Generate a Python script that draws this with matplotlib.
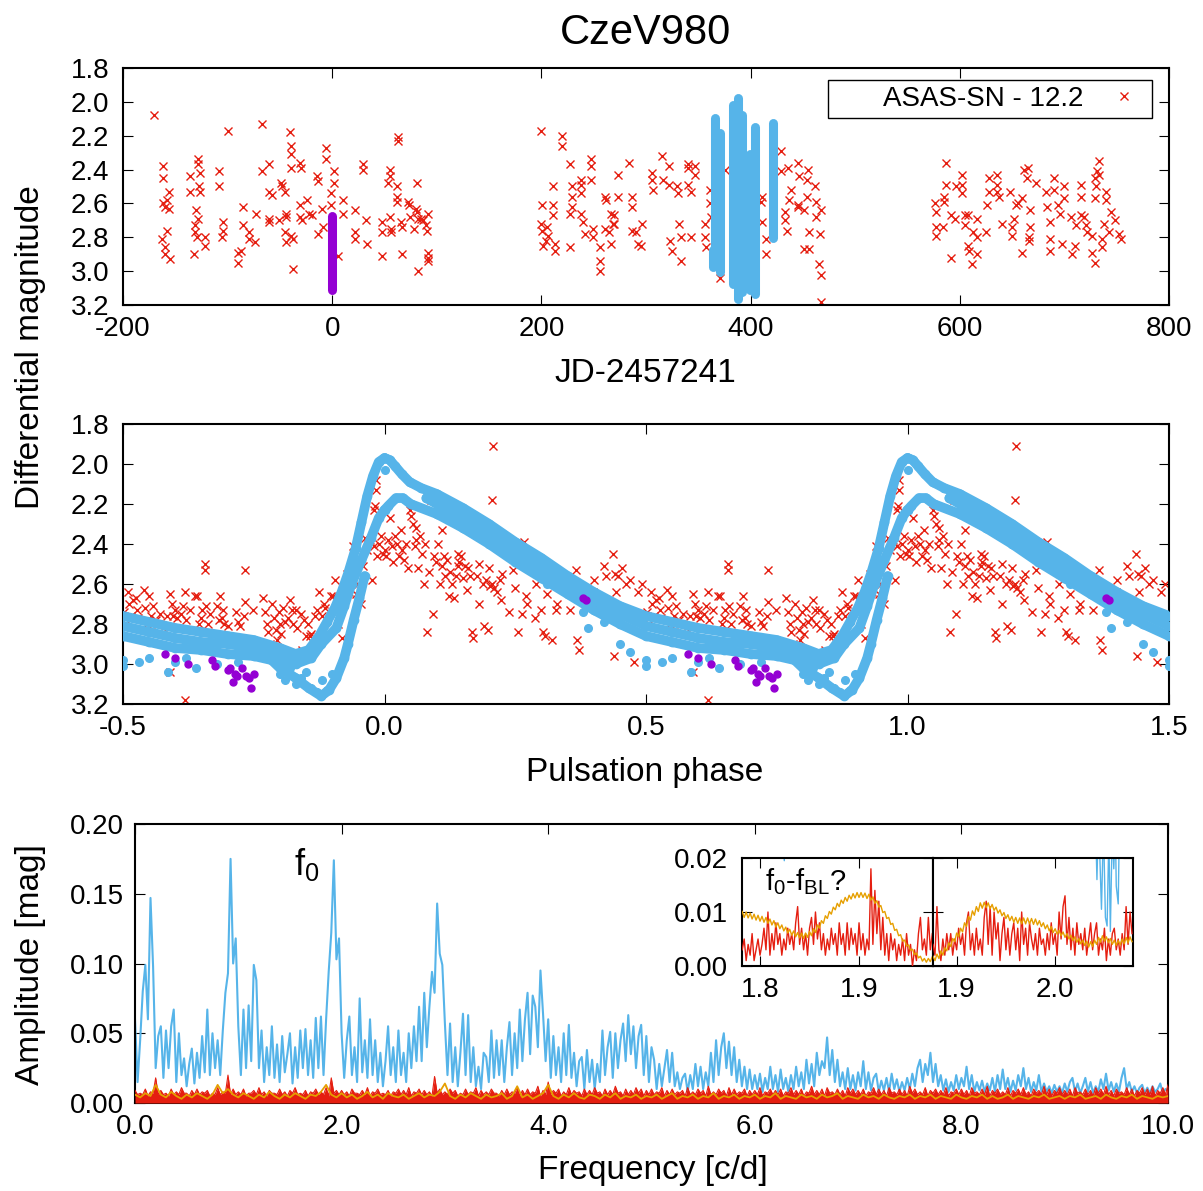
import matplotlib
matplotlib.use('Agg')
import matplotlib.pyplot as plt
from matplotlib.patches import Rectangle
from matplotlib.ticker import FormatStrFormatter
import numpy as np

plt.rcParams['font.family'] = ['Liberation Sans', 'DejaVu Sans']
plt.rcParams['mathtext.fontset'] = 'custom'
plt.rcParams['mathtext.rm'] = 'Liberation Sans'
plt.rcParams['axes.unicode_minus'] = False
plt.rcParams['axes.linewidth'] = 1.5
plt.rcParams['xtick.direction'] = 'in'
plt.rcParams['ytick.direction'] = 'in'
plt.rcParams['xtick.top'] = True
plt.rcParams['ytick.right'] = True
plt.rcParams['xtick.major.size'] = 7
plt.rcParams['ytick.major.size'] = 7
plt.rcParams['xtick.labelsize'] = 20
plt.rcParams['ytick.labelsize'] = 20

RED = '#e51e10'
BLUE = '#56b4e9'
PURPLE = '#9400d3'
ORANGE = '#e69f00'

# ---------------------------------------------------------------------------
# Top panel: ASAS-SN photometry vs time (JD-2457241, magnitude)
# ---------------------------------------------------------------------------
asas_jd = [
    -170, -162, -162, -162, -160, -158, -156, -156, -163, -160, -158, -160, -155,
    -136, -136, -132, -128, -128, -126, -127, -126, -130, -128, -131, -131, -129,
    -122, -122, -108, -108, -104, -104, -105, -100, -90, -87, -90, -85, -85, -80,
    -80, -74, -73, -67, -67, -60, -60, -58, -60, -60, -51, -49, -48, -45, -44, -44,
    -45, -44, -40, -39, -39, -39, -39, -37, -37, -31, -31, -31, -30, -29, -24, -22,
    -19, -15, -14, -14, -10, -9, -6, -6, -1, -1, 2, 2, 10, 10, 6, 22, 22, 22, 29, 29,
    32, 33, 48, 48, 48, 53, 55, 55, 55, 56, 56, 62, 62, 62, 63, 63, 66, 67, 67, 72,
    73, 74, 78, 80, 81, 81, 82, 82, 85, 87, 90, 91, 92, 92, 92, 92,
    200, 200, 201, 201, 202, 204, 205, 206, 211, 211, 211, 213, 213, 220, 220, 227,
    227, 229, 229, 229, 227, 238, 238, 238, 238, 240, 242, 247, 247, 247, 249, 249,
    256, 256, 256, 261, 262, 261, 265, 267, 267, 268, 269, 269, 273, 273, 284, 287,
    287, 287, 290, 292, 295, 296, 306, 306, 307, 315, 316, 322, 322, 323, 325, 330,
    331, 332, 333, 333, 340, 340, 340, 343, 343, 347, 347, 356, 356, 357, 361, 361,
    362, 371, 376, 389, 410, 411, 411, 415, 415, 429, 429, 433, 433, 435, 436, 439,
    437, 445, 446, 445, 445, 451, 455, 454, 454, 456, 451, 456, 462, 463, 463, 466,
    467, 465, 467, 467,
    576, 577, 577, 577, 585, 585, 587, 587, 584, 592, 592, 595, 596, 602, 602, 602,
    605, 605, 608, 608, 609, 612, 613, 616, 616, 616, 625, 626, 628, 628, 636, 636,
    636, 637, 640, 648, 650, 650, 652, 654, 656, 659, 659, 661, 664, 665, 667, 667,
    666, 666, 673, 682, 683, 686, 686, 686, 690, 690, 694, 696, 698, 700, 700, 706,
    707, 710, 711, 716, 716, 716, 719, 721, 722, 726, 726, 729, 729, 730, 729, 731,
    733, 733, 736, 736, 738, 740, 740, 743, 745, 748, 752, 754,
]
asas_mag = [
    2.08, 2.38, 2.45, 2.60, 2.62, 2.58, 2.63, 2.53, 2.81, 2.86, 2.76, 2.90, 2.93,
    2.44, 2.53, 2.90, 2.34, 2.37, 2.42, 2.50, 2.53, 2.64, 2.69, 2.73, 2.77, 2.80,
    2.80, 2.85, 2.41, 2.50, 2.71, 2.76, 2.80, 2.17, 2.89, 2.88, 2.95, 2.62, 2.73, 2.77,
    2.81, 2.83, 2.66, 2.13, 2.41, 2.37, 2.53, 2.55, 2.69, 2.71, 2.70, 2.48, 2.50, 2.53, 2.66, 2.68,
    2.77, 2.83, 2.18, 2.26, 2.31, 2.39, 2.79, 2.81, 2.99, 2.61, 2.68, 2.36, 2.39, 2.70, 2.58, 2.66,
    2.67, 2.44, 2.47, 2.78, 2.63, 2.74, 2.27, 2.34, 2.54, 2.61, 2.41, 2.48, 2.58, 2.66, 2.91, 2.64, 2.77, 2.81, 2.37, 2.40,
    2.70, 2.84, 2.71, 2.77, 2.91, 2.48, 2.40, 2.44, 2.68, 2.75, 2.77, 2.50, 2.56, 2.59, 2.21, 2.23, 2.71, 2.74, 2.90, 2.59,
    2.61, 2.68, 2.75, 2.63, 2.65, 2.48, 2.69, 3.00, 2.69, 2.70, 2.73, 2.76, 2.66, 2.89, 2.94, 2.92,
    2.17, 2.72, 2.76, 2.61, 2.85, 2.82, 2.74, 2.79, 2.50, 2.61, 2.67, 2.84, 2.88, 2.20, 2.26, 2.37,
    2.66, 2.50, 2.56, 2.62, 2.86, 2.46, 2.49, 2.54, 2.66, 2.71, 2.78, 2.34, 2.38, 2.46, 2.75, 2.80,
    2.86, 2.94, 3.00, 2.56, 2.58, 2.75, 2.77, 2.84, 2.66, 2.72, 2.67, 2.72, 2.56, 2.43, 2.36, 2.56,
    2.62, 2.76, 2.77, 2.84, 2.85, 2.72, 2.42, 2.46, 2.52, 2.32, 2.46, 2.38, 2.49, 2.82, 2.88, 2.50,
    2.54, 2.72, 2.80, 2.94, 2.37, 2.39, 2.49, 2.53, 2.80, 2.38, 2.43, 2.72, 2.80, 2.86, 2.52, 2.60,
    2.68, 3.04, 2.40, 2.28, 2.59, 2.56, 2.71, 2.81, 2.90, 2.29, 2.41, 2.65, 2.70, 2.76, 2.39, 2.52,
    2.58, 2.36, 2.44, 2.61, 2.62, 2.64, 2.40, 2.46, 2.56, 2.77, 2.87, 2.87, 2.50, 2.59, 2.68, 2.78,
    2.64, 2.96, 3.02, 3.18,
    2.60, 2.65, 2.74, 2.79, 2.56, 2.59, 2.36, 2.49, 2.74, 2.67, 2.92, 2.69, 2.50, 2.43, 2.49, 2.54,
    2.67, 2.73, 2.67, 2.85, 2.88, 2.96, 2.77, 2.69, 2.80, 2.90, 2.77, 2.61, 2.45, 2.53, 2.43, 2.49,
    2.53, 2.56, 2.72, 2.53, 2.74, 2.79, 2.69, 2.61, 2.60, 2.57, 2.89, 2.40, 2.45, 2.39, 2.64, 2.74,
    2.80, 2.82, 2.48, 2.53, 2.62, 2.71, 2.81, 2.88, 2.45, 2.52, 2.61, 2.66, 2.84, 2.50, 2.57, 2.68,
    2.90, 2.85, 2.73, 2.49, 2.56, 2.67, 2.68, 2.73, 2.77, 2.79, 2.89, 2.95, 2.57, 2.50, 2.45, 2.41,
    2.35, 2.43, 2.81, 2.86, 2.72, 2.53, 2.58, 2.77, 2.65, 2.70, 2.78, 2.81,
]

# high-cadence nights (blue) and the single purple night: JD, brightest, faintest
blue_night_jd = [364, 366, 371, 383, 388, 392, 399, 404, 421]
blue_night_top = [2.85, 2.07, 2.16, 1.99, 1.95, 2.05, 2.28, 2.12, 2.10]
blue_night_bottom = [3.00, 2.98, 3.03, 3.10, 3.19, 3.15, 3.14, 3.16, 2.83]
purple_night_jd = [0]
purple_night_top = [2.65]
purple_night_bottom = [3.14]

# ---------------------------------------------------------------------------
# Middle panel: phased light curve
# ---------------------------------------------------------------------------
asas_phase = [
    -0.498, -0.495, -0.490, -0.488, -0.484, -0.480, -0.476, -0.474, -0.471, -0.460,
    -0.457, -0.454, -0.450, -0.447, -0.442, -0.437, -0.433, -0.430, -0.423, -0.416,
    -0.410, -0.406, -0.404, -0.400, -0.396, -0.389, -0.385, -0.382, -0.379, -0.372,
    -0.362, -0.358, -0.355, -0.351, -0.348, -0.344, -0.343, -0.341, -0.338, -0.334,
    -0.320, -0.317, -0.314, -0.310, -0.308, -0.307, -0.300, -0.283, -0.280, -0.276,
    -0.269, -0.267, -0.266, -0.252, -0.233, -0.229, -0.225, -0.222, -0.218, -0.215,
    -0.211, -0.208, -0.205, -0.201, -0.200, -0.198, -0.194, -0.190, -0.184, -0.181,
    -0.177, -0.174, -0.170, -0.167, -0.160, -0.157, -0.153, -0.150, -0.147, -0.143,
    -0.140, -0.133, -0.130, -0.126, -0.120, -0.116, -0.113, -0.102, -0.099, -0.095,
    -0.089, -0.082, -0.075, -0.072, -0.068, -0.065, -0.061, -0.058, -0.055, -0.051,
    -0.048, -0.044, -0.041, -0.038, -0.034, -0.031, -0.027, -0.024, -0.021, -0.019,
    -0.017, -0.016, -0.020, -0.014, -0.010, -0.007, -0.003, 0.000, 0.003, 0.007,
    0.010, 0.014, 0.017, 0.020, 0.024, 0.027, 0.031, 0.034, 0.038, 0.041,
    0.044, 0.048, 0.051, 0.055, 0.058, 0.061, 0.065, 0.068, 0.072, 0.075,
    0.078, 0.082, 0.085, 0.089, 0.092, 0.094, 0.099, 0.102, 0.106, 0.109,
    0.113, 0.116, 0.119, 0.123, 0.126, 0.130, 0.133, 0.136, 0.140, 0.143,
    0.147, 0.150, 0.153, 0.157, 0.160, 0.164, 0.167, 0.170, 0.177, 0.181,
    0.188, 0.191, 0.194, 0.198, 0.201, 0.205, 0.208, 0.206, 0.209, 0.215,
    0.222, 0.225, 0.239, 0.246, 0.256, 0.263, 0.266, 0.273, 0.283, 0.287,
    0.300, 0.303, 0.307, 0.321, 0.328, 0.341, 0.348, 0.355, 0.367, 0.368,
    0.372, 0.375, 0.389, 0.399, 0.402, 0.409, 0.420, 0.423, 0.426, 0.437,
    0.438, 0.440, 0.443, 0.447, 0.455, 0.462, 0.470, 0.478, 0.485, 0.492,
    -0.410, -0.382, 0.310, 0.330, 0.250, 0.270, 0.290, 0.220, 0.360, 0.400,
    0.440, 0.140, 0.110, 0.060, 0.180, 0.200,
]
asas_phase_mag = [
    2.74, 2.80, 2.64, 2.70, 2.76, 2.68, 2.67, 2.73, 2.77, 2.63,
    2.72, 2.80, 2.66, 2.76, 2.71, 2.78, 2.80, 2.75, 2.82, 2.76,
    2.65, 2.70, 2.76, 2.73, 2.77, 2.75, 2.71, 2.64, 2.78, 2.73,
    2.66, 2.66, 2.80, 2.77, 2.73, 2.50, 2.53, 2.71, 2.80, 2.75,
    2.71, 2.78, 2.66, 2.77, 2.73, 2.80, 2.81, 2.74, 2.79, 2.81,
    2.76, 2.53, 2.69, 2.73, 2.67, 2.74, 2.80, 2.84, 2.90, 2.70,
    2.77, 2.83, 2.88, 2.74, 2.80, 2.85, 2.72, 2.79, 2.77, 2.68,
    2.73, 2.80, 2.73, 2.82, 2.75, 2.93, 2.78, 2.86, 2.80, 2.86,
    2.85, 2.76, 2.73, 2.64, 2.76, 2.70, 2.72, 2.66, 2.66, 2.58,
    2.80, 2.87, 2.60, 2.55, 2.64, 2.53, 2.41, 2.50, 2.65, 2.60,
    2.66, 2.70, 2.51, 2.37, 2.43, 2.40, 2.38, 2.58, 2.23, 2.21,
    2.13, 2.08, 2.41, 2.46, 2.40, 2.36, 2.45, 2.43, 2.46, 2.38,
    2.27, 2.41, 2.49, 2.36, 2.40, 2.46, 2.33, 2.43, 2.48, 2.40,
    2.52, 2.23, 2.26, 2.30, 2.41, 2.38, 2.52, 2.36, 2.45, 2.60,
    2.40, 2.84, 2.54, 2.18, 2.75, 2.46, 2.49, 2.40, 2.60, 2.51,
    2.46, 2.56, 2.48, 2.66, 2.54, 2.60, 2.67, 2.56, 2.51, 2.49,
    2.46, 2.57, 2.51, 2.63, 2.52, 2.56, 2.84, 2.87, 2.56, 2.70,
    2.60, 2.81, 2.58, 2.83, 2.61, 2.60, 1.91, 2.18, 2.62, 2.64,
    2.68, 2.55, 2.74, 2.53, 2.84, 2.75, 2.39, 2.70, 2.53, 2.77,
    2.73, 2.84, 2.86, 2.88, 2.73, 2.56, 2.63, 2.73, 2.53, 2.88,
    2.93, 2.66, 2.66, 2.64, 2.69, 2.70, 2.51, 2.56, 2.70, 2.45,
    2.96, 2.71, 2.64, 2.56, 2.52, 2.60, 2.58, 2.99, 2.64, 2.60,
    3.04, 3.18, 2.65, 2.70, 2.62, 2.66, 2.60, 2.58, 2.62, 2.58,
    2.55, 2.45, 2.33, 2.32, 2.50, 2.52,
]

# blue light-curve tracks over one cycle (phase 0..1, magnitude)
track_a_phase = [0.000, 0.010, 0.020, 0.033, 0.048, 0.070, 0.100, 0.150, 0.200, 0.250,
                 0.300, 0.350, 0.400, 0.450, 0.500, 0.550, 0.600, 0.650, 0.700, 0.750,
                 0.800, 0.830, 0.855, 0.875, 0.890, 0.905, 0.918, 0.930, 0.945, 0.956,
                 0.967, 0.978, 0.989, 1.000]
track_a_mag = [1.97, 1.98, 2.01, 2.05, 2.09, 2.12, 2.15, 2.22, 2.30, 2.39,
               2.47, 2.56, 2.64, 2.71, 2.76, 2.79, 2.82, 2.84, 2.86, 2.88,
               2.92, 2.95, 2.93, 2.86, 2.79, 2.72, 2.64, 2.55, 2.42, 2.29,
               2.16, 2.06, 1.99, 1.97]
track_b_phase = [0.000, 0.007, 0.022, 0.035, 0.050, 0.100, 0.150, 0.200, 0.250, 0.300,
                 0.350, 0.400, 0.450, 0.500, 0.550, 0.600, 0.650, 0.700, 0.750, 0.800,
                 0.830, 0.860, 0.879, 0.908, 0.923, 0.937, 0.956, 0.974, 0.989, 1.000]
track_b_mag = [2.23, 2.21, 2.17, 2.17, 2.20, 2.25, 2.32, 2.40, 2.49, 2.57,
               2.65, 2.73, 2.80, 2.86, 2.89, 2.92, 2.93, 2.95, 2.96, 2.99,
               3.00, 2.97, 2.90, 2.82, 2.71, 2.60, 2.48, 2.37, 2.27, 2.23]
track_c_phase = [0.080, 0.100, 0.150, 0.200, 0.250, 0.300, 0.350, 0.400, 0.450,
                 0.500, 0.550, 0.600, 0.650, 0.700, 0.750, 0.800, 0.830]
track_c_mag = [2.17, 2.20, 2.27, 2.35, 2.44, 2.52, 2.60, 2.68, 2.75,
               2.81, 2.84, 2.87, 2.89, 2.90, 2.92, 2.95, 2.97]
track_d_phase = [0.780, 0.800, 0.830, 0.855, 0.879, 0.894, 0.908, 0.923, 0.930, 0.941,
                 0.952, 0.962]
track_d_mag = [2.97, 3.02, 3.07, 3.12, 3.16, 3.13, 3.07, 2.97, 2.90, 2.78,
               2.67, 2.56]
blue_extra_phase = [0.500, 0.586, 0.640, 0.620, 0.550, 0.600, 0.680, 0.450, 0.470, 0.380,
                    0.800, 0.810, 0.830, 0.840, 0.860, 0.870, 0.890, 0.880, 0.900, 0.850,
                    0.820, 0.390, 0.420, 0.310, 0.500, 0.000, 0.530, 0.720]
blue_extra_mag = [3.01, 3.04, 3.02, 2.97, 2.97, 2.99, 3.00, 2.90, 2.94, 2.74,
                  3.05, 3.08, 3.10, 3.07, 3.12, 3.14, 3.13, 3.08, 3.05, 3.04,
                  3.02, 2.82, 2.79, 2.60, 2.98, 2.03, 2.99, 2.99]

purple_phase = [0.380, 0.385, 0.580, 0.600, 0.625, 0.670, 0.675, 0.700, 0.705, 0.710,
                0.715, 0.718, 0.728, 0.736, 0.740, 0.745, 0.750]
purple_mag = [2.67, 2.68, 2.95, 2.97, 3.00, 2.98, 3.01, 3.03, 3.02, 3.09,
              3.05, 3.06, 3.02, 3.06, 3.07, 3.12, 3.05]

# ---------------------------------------------------------------------------
# Bottom panel: amplitude spectra (mmag), frequency step 0.025 / 0.05 c/d
# ---------------------------------------------------------------------------
blue_amp_mmag = [
    60, 15, 45, 80, 99, 60, 147, 98, 25, 48, 55, 18, 52, 25, 55, 67, 15, 50, 20, 32,
    12, 28, 39, 14, 36, 18, 48, 22, 67, 20, 50, 25, 45, 20, 52, 79, 93, 175, 100, 118,
    55, 20, 67, 25, 70, 30, 99, 88, 25, 52, 15, 40, 20, 55, 18, 42, 15, 48, 22, 35,
    50, 14, 40, 18, 52, 25, 53, 20, 45, 18, 61, 25, 62, 20, 60, 94, 122, 174, 103, 118,
    50, 18, 45, 62, 20, 40, 15, 75, 22, 45, 18, 60, 20, 45, 15, 36, 12, 30, 55, 20,
    40, 15, 52, 20, 36, 15, 50, 25, 55, 30, 69, 30, 79, 40, 69, 94, 79, 143, 107, 99,
    57, 20, 57, 15, 40, 12, 36, 64, 20, 63, 15, 40, 12, 26, 10, 36, 33, 15, 52, 18,
    45, 20, 45, 15, 40, 58, 20, 50, 25, 67, 30, 60, 79, 35, 77, 69, 40, 95, 64, 30,
    60, 18, 48, 20, 40, 15, 50, 20, 56, 18, 36, 12, 30, 33, 10, 38, 15, 31, 10, 28,
    15, 52, 20, 40, 51, 18, 50, 25, 45, 57, 30, 63, 35, 55, 25, 48, 56, 20, 48, 15,
    40, 31, 10, 28, 12, 25, 38, 15, 36, 12, 22, 10, 18, 21, 8, 20, 10, 28, 12, 26,
    10, 22, 12, 36, 15, 45, 20, 40, 50, 25, 44, 20, 40, 15, 31, 12, 26, 10, 24, 10,
    20, 10, 21, 8, 18, 10, 26, 10, 20, 8, 24, 10, 18, 8, 20, 10, 26, 12, 22, 10,
    31, 14, 28, 12, 36, 20, 30, 25, 47, 20, 38, 15, 31, 12, 22, 10, 25, 10, 20, 9,
    22, 12, 30, 10, 22, 9, 18, 21, 8, 16, 9, 18, 8, 21, 10, 17, 8, 15, 9, 18,
    10, 21, 12, 25, 31, 15, 28, 20, 36, 15, 28, 12, 20, 9, 17, 8, 15, 9, 20, 10,
    18, 12, 26, 10, 20, 8, 15, 9, 16, 8, 14, 9, 18, 8, 20, 10, 24, 10, 18, 8,
    16, 9, 20, 12, 25, 10, 18, 8, 15, 9, 20, 8, 14, 8, 12, 7, 13, 8, 12, 7,
    14, 8, 15, 18, 8, 14, 7, 12, 18, 8, 15, 7, 12, 8, 17, 10, 21, 9, 15, 8,
    14, 8, 18, 25, 10, 15, 8, 12, 7, 11, 13, 7, 11, 7, 12, 8, 10, 14, 7, 10, 9,
]
red_amp_mmag = [
    9, 6, 7, 6, 10, 5, 8, 7, 18, 6, 9, 6, 7, 5, 10, 6, 8, 6, 11, 7,
    7, 5, 9, 6, 10, 6, 8, 7, 9, 5, 7, 6, 11, 6, 8, 7, 20, 6, 10, 6,
    8, 6, 10, 5, 7, 7, 9, 6, 11, 6, 8, 5, 9, 7, 7, 6, 10, 6, 8, 5,
    9, 7, 11, 6, 7, 6, 9, 5, 8, 7, 10, 6, 8, 6, 11, 5, 18, 7, 9, 6,
    9, 6, 8, 5, 10, 7, 7, 6, 9, 6, 11, 5, 8, 7, 10, 6, 7, 6, 9, 5,
    8, 7, 10, 6, 9, 6, 11, 5, 8, 7, 10, 6, 9, 6, 8, 5, 19, 7, 10, 6,
    8, 6, 10, 7, 9, 5, 7, 6, 10, 6, 8, 7, 11, 5, 9, 6, 8, 6, 10, 7,
    7, 5, 9, 6, 10, 6, 8, 7, 11, 5, 9, 6, 10, 6, 8, 7, 12, 5, 9, 6,
    15, 6, 9, 7, 10, 5, 8, 6, 11, 6, 9, 7, 8, 5, 10, 6, 9, 6, 11, 7,
    8, 5, 10, 6, 9, 6, 12, 7, 8, 5, 10, 6, 9, 6, 11, 7, 10, 5, 9, 6,
    10, 6, 8, 7, 11, 5, 9, 6, 10, 6, 8, 7, 9, 5, 11, 6, 8, 6, 10, 7,
    9, 5, 12, 6, 8, 6, 10, 7, 9, 5, 11, 6, 10, 6, 8, 7, 10, 5, 9, 6,
    9, 6, 11, 5, 8, 7, 10, 6, 9, 6, 10, 5, 8, 7, 11, 6, 9, 6, 10, 5,
    8, 7, 12, 6, 9, 6, 10, 5, 11, 7, 8, 6, 10, 6, 9, 5, 11, 7, 10, 6,
    9, 6, 10, 5, 8, 7, 11, 6, 10, 6, 9, 5, 11, 7, 8, 6, 10, 6, 9, 5,
    12, 7, 10, 6, 8, 6, 11, 5, 9, 7, 10, 6, 9, 6, 11, 5, 8, 7, 10, 6,
    10, 6, 9, 5, 11, 7, 8, 6, 10, 6, 12, 5, 9, 7, 10, 6, 8, 6, 11, 5,
    9, 7, 10, 6, 11, 6, 8, 5, 10, 7, 9, 6, 12, 6, 10, 5, 9, 7, 11, 6,
    9, 6, 10, 5, 11, 7, 8, 6, 10, 6, 9, 5, 11, 7, 10, 6, 12, 6, 9, 5,
    10, 7, 8, 6, 11, 6, 10, 5, 9, 7, 11, 6, 10, 6, 12, 5, 9, 7, 11, 6, 13,
]
orange_amp_mmag = [
    6, 4, 7, 5, 13, 6, 4, 8, 5, 3, 6, 4, 7, 5, 3, 6, 13, 7, 10, 6,
    4, 7, 5, 3, 6, 4, 8, 5, 3, 6, 4, 7, 5, 3, 6, 5, 8, 13, 6, 4,
    7, 4, 6, 3, 5, 8, 4, 6, 3, 7, 5, 4, 6, 3, 5, 7, 4, 6, 5, 8,
    14, 5, 3, 6, 4, 7, 5, 3, 6, 4, 5, 7, 3, 5, 12, 4, 6, 3, 5, 7,
    13, 5, 3, 6, 4, 7, 4, 3, 6, 5, 3, 6, 4, 7, 3, 5, 4, 6, 3, 5,
    4, 6, 3, 5, 7, 3, 5, 4, 6, 3, 5, 4, 7, 3, 5, 4, 6, 3, 5, 4,
    6, 3, 5, 4, 7, 3, 5, 4, 3, 6, 4, 5, 3, 6, 4, 5, 7, 3, 5, 4,
    3, 6, 4, 5, 3, 6, 4, 3, 5, 4, 6, 3, 5, 4, 6, 3, 5, 4, 3, 6,
    4, 3, 5, 4, 6, 3, 5, 3, 4, 6, 3, 5, 4, 3, 5, 4, 6, 3, 4, 5,
    3, 5, 4, 6, 3, 4, 5, 3, 6, 4, 3, 5, 4, 6, 3, 5, 4, 3, 5, 4, 5,
]

# inset spectra (mmag) on a 0.002 c/d grid
inset_left_f0 = 1.782
inset_left_red = [
    3, 5, 1, 4, 2, 6, 1, 3, 5, 2, 4, 7, 3, 10, 2, 6, 3, 8, 4, 6,
    2, 5, 3, 7, 4, 6, 3, 8, 11, 4, 7, 3, 6, 2, 7, 9, 4, 10, 5, 8,
    3, 6, 2, 5, 3, 7, 4, 6, 2, 8, 4, 6, 2, 8, 3, 7, 4, 6, 2, 8,
    3, 6, 2, 5, 3, 18, 4, 14, 6, 12, 3, 9, 2, 6, 1, 6, 3, 5, 1, 4,
    2, 5, 1, 6, 2, 4, 0, 3, 1, 6, 9, 3, 5, 2, 9, 3, 6,
]
inset_left_orange = [
    10.1, 9.0, 10.0, 8.9, 9.8, 8.7, 9.6, 8.5, 9.4, 8.3, 9.2, 8.1, 9.0, 7.9, 8.7, 7.6,
    8.4, 7.2, 8.0, 6.9, 7.6, 6.5, 7.2, 6.1, 6.8, 5.7, 6.5, 5.4, 6.2, 5.2, 6.1, 5.1,
    6.1, 5.3, 6.4, 5.6, 6.9, 6.2, 7.6, 7.0, 8.4, 7.9, 9.3, 8.8, 10.1, 9.6, 10.9, 10.4,
    11.6, 11.0, 12.2, 11.6, 12.7, 12.0, 13.1, 12.4, 13.4, 12.6, 13.6, 12.7, 13.6, 12.7,
    13.5, 12.5, 13.3, 12.2, 12.8, 11.6, 12.1, 10.9, 11.2, 9.9, 10.1, 8.8, 9.0, 7.7,
    7.9, 6.6, 6.8, 5.6, 5.8, 4.6, 4.8, 3.7, 3.9, 2.9, 3.1, 2.1, 2.4, 1.5, 1.8, 0.9,
    1.4, 0.7, 1.4, 0.8, 1.7,
]
inset_left_blue_f = [1.8225, 1.8245, 1.8265]
inset_left_blue = [30, 19.5, 30]

inset_right_f0 = 1.876
inset_right_red = [
    4, 2, 11, 3, 1, 5, 2, 6, 3, 6, 2, 5, 3, 7, 4, 6, 2, 8, 10, 3,
    6, 2, 7, 3, 5, 2, 9, 12, 4, 11, 2, 10, 5, 8, 1, 6, 9, 3, 7, 2,
    6, 8, 3, 7, 1, 10, 4, 7, 2, 8, 5, 3, 6, 2, 7, 4, 5, 2, 6, 3,
    8, 4, 6, 2, 10, 5, 11, 13, 4, 9, 3, 7, 2, 8, 4, 6, 3, 7, 2, 5,
    8, 3, 6, 8, 2, 5, 3, 7, 1, 5, 2, 6, 7, 3, 5, 2, 6, 3, 11, 4,
    10, 6,
]
inset_right_orange = [
    1.8, 1.0, 2.2, 1.4, 2.8, 2.0, 3.4, 2.8, 4.3, 3.6, 5.1, 4.5, 6.1, 5.4, 7.0, 6.3,
    8.0, 7.3, 9.2, 8.5, 10.2, 9.4, 11.0, 10.1, 11.7, 10.7, 11.8, 10.8, 11.7, 10.6,
    11.4, 10.3, 10.9, 9.8, 10.4, 9.3, 9.9, 8.8, 9.5, 8.4, 9.2, 8.1, 9.0, 7.9, 8.9,
    7.8, 8.9, 7.8, 8.9, 7.8, 8.8, 7.7, 8.7, 7.6, 8.4, 7.3, 8.0, 6.9, 7.6, 6.5, 7.3,
    6.2, 6.9, 5.9, 6.6, 5.6, 6.3, 5.3, 6.0, 5.0, 5.7, 4.7, 5.4, 4.4, 5.1, 4.1, 4.8,
    3.8, 4.6, 3.5, 4.5, 3.6, 4.8, 4.0, 5.3, 4.4, 5.6, 4.6, 5.4, 4.3, 5.1, 4.0, 4.8,
    3.8, 4.7, 3.9, 5.0, 4.1, 5.3, 4.3, 5.4, 4.5,
]
inset_right_blue_f = [2.0405, 2.0424, 2.0440, 2.0470, 2.0490, 2.0510, 2.0527, 2.0545,
                      2.0560, 2.0580, 2.0595, 2.0610, 2.0620, 2.0640, 2.0655]
inset_right_blue = [30, 16, 28, 10.5, 26, 9, 7.4, 24, 6.4, 26, 18, 27, 14.8, 11.5, 30]

# ---------------------------------------------------------------------------
W, H = 1203, 1191
fig = plt.figure(figsize=(W / 100, H / 100), dpi=100)


def px_axes(left, top, right, bottom):
    return fig.add_axes([left / W, 1 - bottom / H, (right - left) / W, (bottom - top) / H])


ax1 = px_axes(123, 68, 1169, 305)
ax2 = px_axes(123, 424, 1169, 704)
ax3 = px_axes(135, 824, 1168, 1103)
axL = px_axes(742, 858, 933, 966)
axR = px_axes(933, 858, 1133, 966)

# --- top panel
ax1.plot(asas_jd, asas_mag, ls='none', marker='x', ms=5.5, mew=1.0, color=RED,
         label='ASAS-SN - 12.2', zorder=2)
cap = 0.026
ax1.vlines(blue_night_jd, np.array(blue_night_top) + cap, np.array(blue_night_bottom) - cap,
           colors=BLUE, lw=6.5, capstyle='round', zorder=3)
ax1.vlines(purple_night_jd, np.array(purple_night_top) + cap, np.array(purple_night_bottom) - cap,
           colors=PURPLE, lw=6.5, capstyle='round', zorder=3)
ax1.set_xlim(-200, 800)
ax1.set_ylim(3.2, 1.8)
ax1.set_xticks(np.arange(-200, 801, 200))
ax1.set_yticks(np.arange(1.8, 3.21, 0.2))
ax1.yaxis.set_major_formatter(FormatStrFormatter('%.1f'))
ax1.tick_params(axis='x', pad=8)
ax1.tick_params(axis='y', pad=10)
ax1.add_patch(Rectangle((0.674, 0.789), 0.310, 0.160, transform=ax1.transAxes,
                        fc='white', ec='black', lw=1.0, zorder=4))
ax1.legend(loc='center left', bbox_to_anchor=(0.716, (305 - 99) / 237), frameon=False,
           markerfirst=False, handletextpad=0.6, handlelength=1.75, fontsize=20,
           borderaxespad=0)

# --- middle panel
ph = np.array(asas_phase)
for shift in (0, 1):
    ax2.plot(ph + shift, asas_phase_mag, ls='none', marker='x', ms=5.5, mew=1.0,
             color=RED, zorder=2)
tracks = [(track_a_phase, track_a_mag), (track_b_phase, track_b_mag),
          (track_c_phase, track_c_mag), (track_d_phase, track_d_mag)]
for shift in (-1, 0, 1):
    for tp, tm in tracks:
        ax2.plot(np.array(tp) + shift, tm, color=BLUE, lw=7, marker='o', ms=6,
                 solid_joinstyle='round', solid_capstyle='round', zorder=3)
    ax2.plot(np.array(blue_extra_phase) + shift, blue_extra_mag, ls='none', marker='o',
             ms=5.5, color=BLUE, zorder=3)
    ax2.plot(np.array(purple_phase) + shift, purple_mag, ls='none', marker='o', ms=5,
             color=PURPLE, zorder=4)
ax2.set_xlim(-0.5, 1.5)
ax2.set_ylim(3.2, 1.8)
ax2.set_xticks([-0.5, 0.0, 0.5, 1.0, 1.5])
ax2.set_yticks(np.arange(1.8, 3.21, 0.2))
ax2.xaxis.set_major_formatter(FormatStrFormatter('%.1f'))
ax2.yaxis.set_major_formatter(FormatStrFormatter('%.1f'))
ax2.tick_params(axis='x', pad=8)
ax2.tick_params(axis='y', pad=10)

# --- bottom panel
blue_amp = np.array(blue_amp_mmag) / 1000
red_amp = np.array(red_amp_mmag) / 1000
orange_amp = np.array(orange_amp_mmag) / 1000
f_blue = 0.025 * np.arange(len(blue_amp))
f_red = 0.025 * np.arange(len(red_amp))
f_orange = 0.05 * np.arange(len(orange_amp))
ax3.plot(f_blue, blue_amp, color=BLUE, lw=1.5, zorder=2)
ax3.fill_between(f_red, 0, red_amp, color=RED, lw=0, zorder=3)
ax3.plot(f_red, red_amp, color=RED, lw=0.8, zorder=3)
ax3.plot(f_orange, orange_amp, color=ORANGE, lw=1.3, zorder=4)
ax3.set_xlim(0, 10)
ax3.set_ylim(0, 0.2)
ax3.set_xticks(np.arange(0, 10.1, 2))
ax3.set_yticks(np.arange(0, 0.201, 0.05))
ax3.xaxis.set_major_formatter(FormatStrFormatter('%.1f'))
ax3.yaxis.set_major_formatter(FormatStrFormatter('%.2f'))
ax3.tick_params(axis='x', pad=8)
ax3.tick_params(axis='y', pad=8)
ax3.text(1.54, 0.1634, r'f$\mathregular{_0}$', fontsize=26, ha='left', va='baseline')

# --- inset
for ax, f0, red_v, org_v, bf, bv, xt in (
        (axL, inset_left_f0, inset_left_red, inset_left_orange, inset_left_blue_f,
         inset_left_blue, [1.8, 1.9]),
        (axR, inset_right_f0, inset_right_red, inset_right_orange, inset_right_blue_f,
         inset_right_blue, [1.9, 2.0])):
    fr = f0 + 0.002 * np.arange(len(red_v))
    fo = f0 + 0.002 * np.arange(len(org_v))
    ax.plot(bf, np.array(bv) / 1000, color=BLUE, lw=1.0, zorder=2)
    ax.plot(fr, np.array(red_v) / 1000, color=RED, lw=1.0, zorder=3)
    ax.plot(fo, np.array(org_v) / 1000, color=ORANGE, lw=1.0, zorder=4)
    ax.set_ylim(0, 0.02)
    ax.set_xticks(xt)
    ax.set_yticks([0.0, 0.01, 0.02])
    ax.xaxis.set_major_formatter(FormatStrFormatter('%.1f'))
    ax.yaxis.set_major_formatter(FormatStrFormatter('%.2f'))
    ax.tick_params(axis='x', pad=8)
    ax.tick_params(axis='y', pad=10)
axL.set_xlim(1.7818, 1.9747)
axR.set_xlim(1.876, 2.079)
axR.tick_params(axis='y', labelleft=False)
axL.text(0.12, 0.70, r'f$\mathregular{_0}$-f$\mathregular{_{BL}}$?', fontsize=21,
         transform=axL.transAxes, ha='left', va='baseline')

# --- figure texts
fig.text(645 / W, 1 - 33 / H, 'CzeV980', fontsize=30, ha='center', va='center')
fig.text(645 / W, 1 - 373 / H, 'JD-2457241', fontsize=24, ha='center', va='center')
fig.text(645 / W, 1 - 772 / H, 'Pulsation phase', fontsize=24, ha='center', va='center')
fig.text(653 / W, 1 - 1170 / H, 'Frequency [c/d]', fontsize=24, ha='center', va='center')
fig.text(31 / W, 1 - 347 / H, 'Differential magnitude', fontsize=24, rotation=90,
         ha='center', va='center')
fig.text(31 / W, 1 - 965 / H, 'Amplitude [mag]', fontsize=24, rotation=90,
         ha='center', va='center')

fig.savefig('out.png', dpi=100)
